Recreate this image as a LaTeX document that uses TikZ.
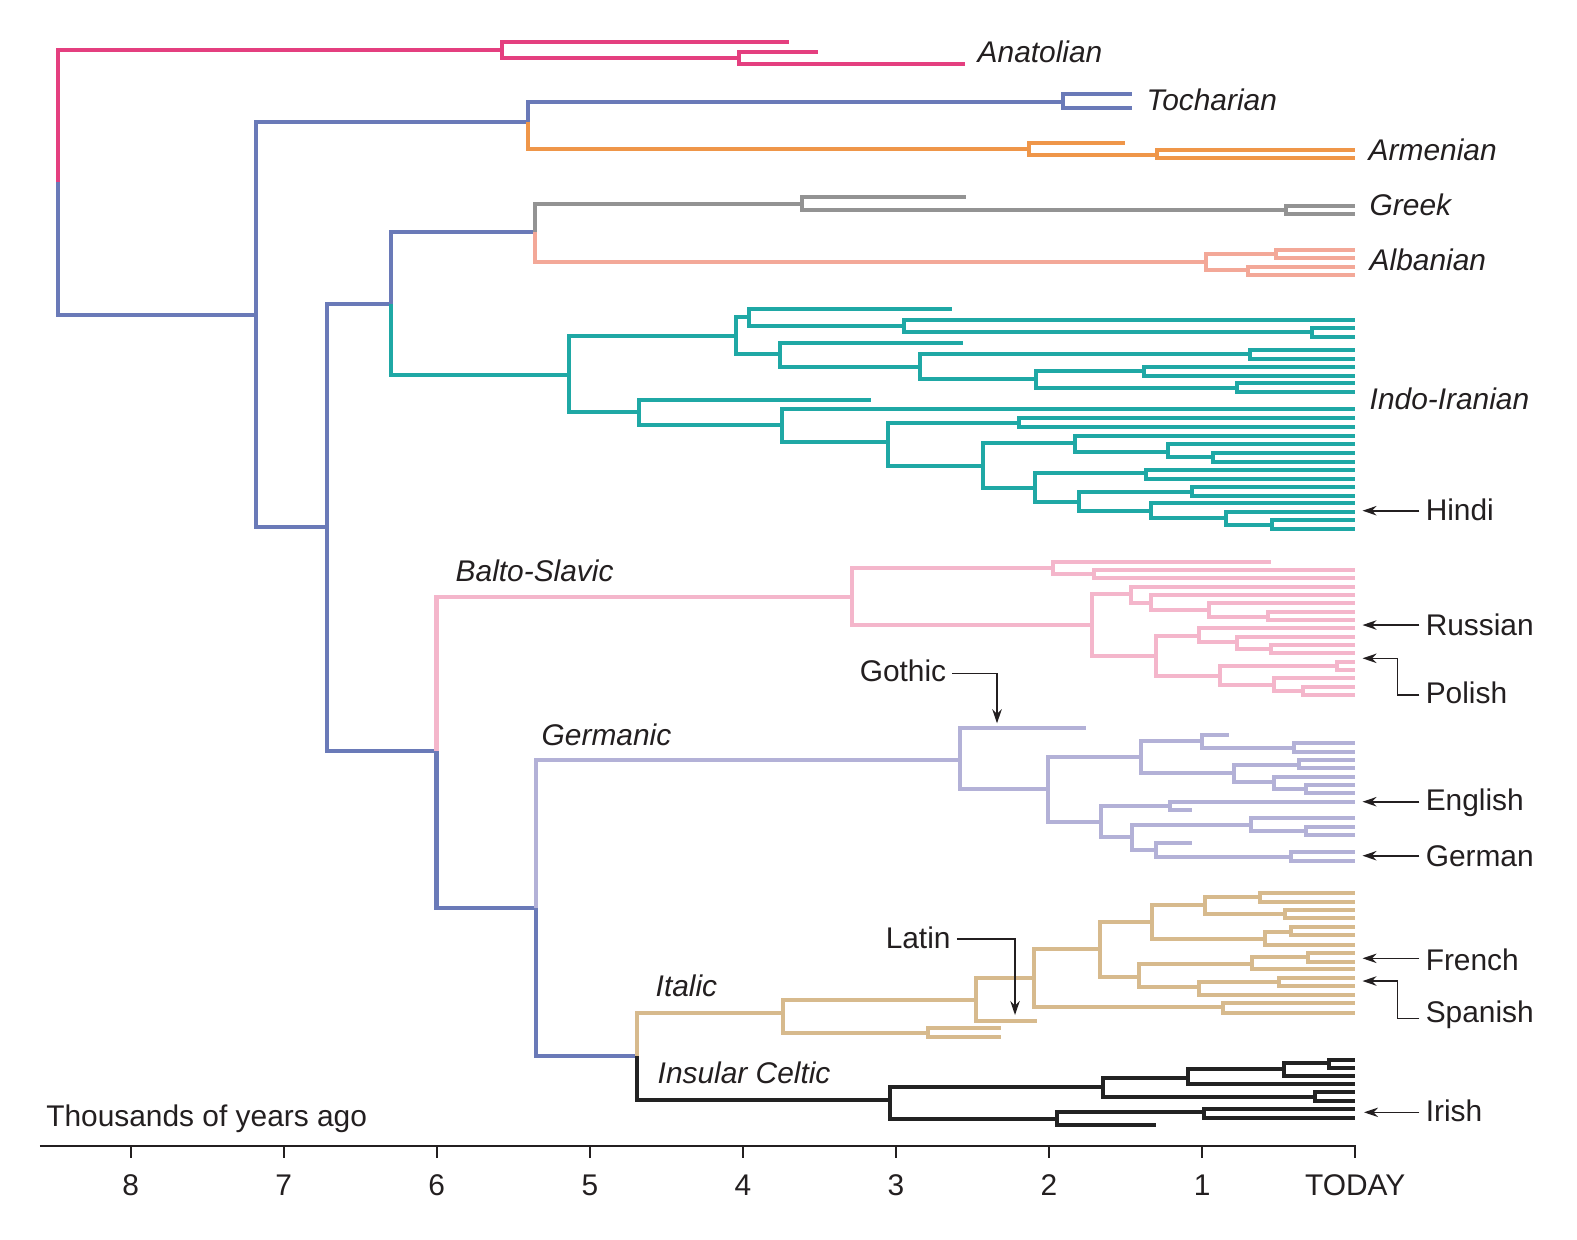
\documentclass[tikz,border=0pt]{standalone}
\usepackage{fontspec}
\setmainfont{Liberation Sans}
\usetikzlibrary{arrows.meta}
\definecolor{pinkA}{HTML}{E43F7F}
\definecolor{blueT}{HTML}{6A7AB8}
\definecolor{orangeA}{HTML}{EF9649}
\definecolor{grayG}{HTML}{939393}
\definecolor{salmonA}{HTML}{F3A898}
\definecolor{tealII}{HTML}{1FA8A5}
\definecolor{pinkBS}{HTML}{F4B6CB}
\definecolor{lavG}{HTML}{B3B1D7}
\definecolor{tanI}{HTML}{D7BA8D}
\definecolor{blackC}{HTML}{222222}
\definecolor{textc}{HTML}{231F20}
\newcommand\Ed[5][]{\draw[#1] (#2,#3) |- (#5,#4);}
\newcommand\Br[6]{\Ed{#1}{#2}{#3}{#4}\Ed{#1}{#2}{#5}{#6}}
\begin{document}
\begin{tikzpicture}[x=0.01cm,y=-0.01cm,
  tree/.style={line width=1.15pt,line join=miter},
  grp/.style={anchor=base west,inner sep=0pt,text=textc,font=\fontsize{8.5pt}{10pt}\selectfont\itshape},
  ann/.style={anchor=base west,inner xsep=1.6pt,inner ysep=0pt,text=textc,font=\fontsize{8.5pt}{10pt}\selectfont},
  ticklbl/.style={anchor=base,inner sep=0pt,text=textc,font=\fontsize{8.5pt}{10pt}\selectfont},
  arr/.style={draw=textc,line width=0.45pt,-{Stealth[length=4pt,width=2.7pt]}},
  axisl/.style={draw=textc,line width=0.6pt}]
\useasboundingbox (0,0) rectangle (1577,1239);
\fill[white] (0,0) rectangle (1577,1239);

\begin{scope}[tree]
% root
\Ed[pinkA]{58}{181.7}{50}{502}
\Ed[blueT]{58}{181.7}{314.7}{256}
% Anatolian
\begin{scope}[draw=pinkA]
\Br{502}{50}{42}{789}{58.3}{739}
\Br{739}{58.3}{52.3}{818}{64.3}{965}
\end{scope}
% trunk
\begin{scope}[draw=blueT]
\Br{256}{314.7}{121.7}{528}{527}{327}
\Ed{528}{121.7}{101.7}{1063}
\Br{1063}{101.7}{94}{1132}{107.7}{1132}
\Br{327}{527}{304.3}{390.6}{751}{436.5}
\Ed{390.6}{304.3}{232.3}{534.8}
\Ed{436.5}{751}{908}{536}
\Ed{536}{908}{1056}{637.4}
\end{scope}
\Ed[orangeA]{528}{121.7}{149}{1029}
\Ed[tealII]{390.6}{304.3}{375}{569.3}
\Ed[grayG]{534.8}{232.3}{204}{802}
\Ed[salmonA]{534.8}{232.3}{262.3}{1206}
\Ed[pinkBS]{436.5}{751}{596.7}{852}
\Ed[lavG]{536}{908}{760}{960}
\Ed[tanI]{637.4}{1056}{1012.7}{783.3}
\Ed[blackC]{637.4}{1056}{1100}{889.7}
% Armenian
\begin{scope}[draw=orangeA]
\Br{1029}{149}{142.7}{1125}{155}{1156.5}
\Br{1156.5}{155}{150}{1355}{158.3}{1355}
\end{scope}
% Greek
\begin{scope}[draw=grayG]
\Br{802}{204}{197}{966}{210}{1286.4}
\Br{1286.4}{210}{205.7}{1355}{214.3}{1355}
\end{scope}
% Albanian
\begin{scope}[draw=salmonA]
\Br{1206}{262.3}{254.3}{1276}{270}{1248}
\Br{1276}{254.3}{249.7}{1355}{258.3}{1355}
\Br{1248}{270}{267}{1355}{275.3}{1355}
\end{scope}
% Indo-Iranian
\begin{scope}[draw=tealII]
\Br{569.3}{375}{336.3}{736}{412}{639.3}
\Br{736}{336.3}{317.3}{749.3}{354.3}{780}
\Br{749.3}{317.3}{309}{952}{325.7}{904.3}
\Br{904.3}{325.7}{320}{1355}{332}{1312}
\Br{1312}{332}{327.7}{1355}{336.7}{1355}
\Br{780}{354.3}{342.7}{963.3}{367.3}{920}
\Br{920}{367.3}{354.3}{1250}{379.3}{1035.7}
\Br{1250}{354.3}{350}{1355}{359.3}{1355}
\Br{1035.7}{379.3}{370.7}{1143.5}{387.7}{1237.4}
\Br{1143.5}{370.7}{367.3}{1355}{375.7}{1355}
\Br{1237.4}{387.7}{383.3}{1355}{391.7}{1355}
\Br{639.3}{412}{400}{871}{425.3}{781.7}
\Br{781.7}{425.3}{409}{1355}{441.7}{887.7}
\Br{887.7}{441.7}{422.7}{1019.3}{465.7}{983.3}
\Br{1019.3}{422.7}{417.7}{1355}{427.3}{1355}
\Br{983.3}{465.7}{443.3}{1075.4}{488}{1035}
\Br{1075.4}{443.3}{435.7}{1355}{451.7}{1167.5}
\Br{1167.5}{451.7}{444}{1355}{456.7}{1212.7}
\Br{1212.7}{456.7}{452.7}{1355}{462.3}{1355}
\Br{1035}{488}{473.3}{1146}{501.7}{1079}
\Br{1146}{473.3}{470}{1355}{479}{1355}
\Br{1079}{501.7}{491.7}{1192}{510.7}{1151}
\Br{1192}{491.7}{486.7}{1355}{495.7}{1355}
\Br{1151}{510.7}{503.3}{1355}{518.3}{1226}
\Br{1226}{518.3}{511.7}{1355}{525}{1272}
\Br{1272}{525}{520}{1355}{529}{1355}
\end{scope}
% Balto-Slavic
\begin{scope}[draw=pinkBS]
\Br{852}{596.7}{568.3}{1053.4}{625}{1092}
\Br{1053.4}{568.3}{561.7}{1270.5}{574.3}{1094}
\Br{1094}{574.3}{570}{1355}{578.3}{1355}
\Br{1092}{625}{594}{1130.7}{655.7}{1156.4}
\Br{1130.7}{594}{586.7}{1355}{602.7}{1151}
\Br{1151}{602.7}{595}{1355}{610}{1208.7}
\Br{1208.7}{610}{603.3}{1355}{616.7}{1267.6}
\Br{1267.6}{616.7}{611.7}{1355}{620}{1355}
\Br{1156.4}{655.7}{635.7}{1198.7}{675.7}{1219.7}
\Br{1198.7}{635.7}{628.3}{1355}{641.7}{1236.7}
\Br{1236.7}{641.7}{636.7}{1355}{649}{1271.3}
\Br{1271.3}{649}{645}{1355}{653.3}{1355}
\Br{1219.7}{675.7}{665.7}{1336.8}{685}{1274.2}
\Br{1336.8}{665.7}{661.7}{1355}{670}{1355}
\Br{1274.2}{685}{678.3}{1355}{691}{1302.5}
\Br{1302.5}{691}{686.7}{1355}{695}{1355}
\end{scope}
% Germanic
\begin{scope}[draw=lavG]
\Br{960}{760}{728}{1085.5}{789.3}{1047.5}
\Br{1047.5}{789.3}{757.3}{1141}{821.7}{1100.5}
\Br{1141}{757.3}{740.7}{1202.4}{773.3}{1234.4}
\Br{1202.4}{740.7}{735}{1229}{748.3}{1293.7}
\Br{1293.7}{748.3}{742.7}{1355}{751.7}{1355}
\Br{1234.4}{773.3}{765}{1299}{781.7}{1273.5}
\Br{1299}{765}{760}{1355}{768.3}{1355}
\Br{1273.5}{781.7}{776.7}{1355}{789.3}{1306.2}
\Br{1306.2}{789.3}{785}{1355}{793.3}{1355}
\Br{1100.5}{821.7}{806}{1170}{837.3}{1131.8}
\Br{1170}{806}{801.7}{1355}{810}{1192}
\Br{1131.8}{837.3}{825}{1251.4}{850}{1155.7}
\Br{1251.4}{825}{818.3}{1355}{831}{1305.5}
\Br{1305.5}{831}{826.7}{1355}{835}{1355}
\Br{1155.7}{850}{843.3}{1192}{856.7}{1290.8}
\Br{1290.8}{856.7}{851.7}{1355}{861}{1355}
\end{scope}
% Italic
\begin{scope}[draw=tanI]
\Br{783.3}{1012.7}{1000}{976}{1033.3}{928.3}
\Br{976}{1000}{978.3}{1034}{1020.7}{1037.3}
\Br{928.3}{1033.3}{1028.3}{1000.7}{1037.3}{1000.7}
\Br{1034}{978.3}{949}{1100}{1007.3}{1222.7}
\Br{1100}{949}{921.7}{1151.6}{977.3}{1139}
\Br{1151.6}{921.7}{905}{1205.4}{939}{1265}
\Br{1205.4}{905}{897.3}{1259.5}{914.3}{1285.2}
\Br{1259.5}{897.3}{892.7}{1355}{901.7}{1355}
\Br{1285.2}{914.3}{910}{1355}{918.3}{1355}
\Br{1265}{939}{931.7}{1290.8}{945}{1355}
\Br{1290.8}{931.7}{926.7}{1355}{935}{1355}
\Br{1139}{977.3}{964}{1252}{987.3}{1198.7}
\Br{1252}{964}{957.3}{1308.4}{969.3}{1355}
\Br{1308.4}{957.3}{953.3}{1355}{961.7}{1355}
\Br{1198.7}{987.3}{981.7}{1278.6}{995}{1355}
\Br{1278.6}{981.7}{977.7}{1355}{986}{1355}
\Br{1222.7}{1007.3}{1003.3}{1355}{1012.7}{1355}
\end{scope}
% Insular Celtic
\begin{scope}[draw=blackC]
\Br{889.7}{1100}{1086.7}{1103.4}{1119}{1056.7}
\Br{1103.4}{1086.7}{1078.3}{1187.5}{1097.3}{1314.6}
\Br{1187.5}{1078.3}{1069.3}{1284}{1084}{1355}
\Br{1284}{1069.3}{1063.3}{1329}{1076}{1355}
\Br{1329}{1063.3}{1060}{1355}{1068.3}{1355}
\Br{1314.6}{1097.3}{1091.7}{1355}{1101}{1355}
\Br{1056.7}{1119}{1112.3}{1204.4}{1125}{1156.4}
\Br{1204.4}{1112.3}{1109}{1355}{1117.7}{1355}
\end{scope}
\end{scope}

% group labels
\node[grp] (anat) at (977,62) {Anatolian};
\node[grp] (toch) at (1146,110) {Tocharian};
\node[grp] (arm) at (1368,160) {Armenian};
\node[grp] (grk) at (1369,215) {Greek};
\node[grp] (alb) at (1369,270.7) {Albanian};
\node[grp] (indir) at (1369,409) {Indo-Iranian};
\node[grp] (balt) at (455,581.7) {Balto-Slavic};
\node[grp] (germ) at (541,745) {Germanic};
\node[grp] (ital) at (655,996) {Italic};
\node[grp] (celt) at (657,1083.3) {Insular Celtic};

% annotated languages
\node[ann] (hindi) at (1419.4,520.7) {Hindi};
\node[ann] (russ) at (1419.4,635) {Russian};
\node[ann] (pol) at (1419.4,703) {Polish};
\node[ann] (eng) at (1419.4,810.7) {English};
\node[ann] (ger) at (1419.4,866.7) {German};
\node[ann] (fre) at (1419.4,970) {French};
\node[ann] (spa) at (1419.4,1022.7) {Spanish};
\node[ann] (iri) at (1419.4,1121.7) {Irish};
\node[ann] (goth) at (853.4,681.7) {Gothic};
\node[ann] (lat) at (879.4,948.3) {Latin};

\coordinate (hT) at (1362.5,510.7);
\coordinate (rT) at (1362.5,625);
\coordinate (pK) at (1397.5,695);
\coordinate (pT) at (1362.5,658.3);
\coordinate (eT) at (1362.5,801.7);
\coordinate (gT) at (1362.5,855.7);
\coordinate (fT) at (1362.5,958.3);
\coordinate (sK) at (1397.5,1018.3);
\coordinate (sT) at (1362.5,981);
\coordinate (iT) at (1364,1112.3);
\coordinate (goK) at (997,673.3);
\coordinate (goT) at (997,723.3);
\coordinate (laK) at (1015,939);
\coordinate (laT) at (1015,1015);

\draw[arr] (hindi.west |- hT) -- (hT);
\draw[arr] (russ.west |- rT) -- (rT);
\draw[arr] (pol.west |- pK) -- (pK) |- (pT);
\draw[arr] (eng.west |- eT) -- (eT);
\draw[arr] (ger.west |- gT) -- (gT);
\draw[arr] (fre.west |- fT) -- (fT);
\draw[arr] (spa.west |- sK) -- (sK) |- (sT);
\draw[arr] (iri.west |- iT) -- (iT);
\draw[arr] (goth.east |- goK) -- (goK) -- (goT);
\draw[arr] (lat.east |- laK) -- (laK) -- (laT);

% axis
\node[ann,inner xsep=0pt] (axt) at (45.6,1126) {Thousands of years ago};
\coordinate (axL) at (39.8,1146);
\coordinate (axR) at (1355.1,1146);
\draw[axisl] (axL) -- (axR) -- ++(0,12);
\foreach \t in {1,...,8}{
  \draw[axisl] ({1355.1-153.06*\t},1146) -- ++(0,12);
  \node[ticklbl] (tk\t) at ({1355.1-153.06*\t},1195) {\t};
}
\node[ticklbl] (today) at (1355.1,1195) {TODAY};
\end{tikzpicture}
\end{document}
